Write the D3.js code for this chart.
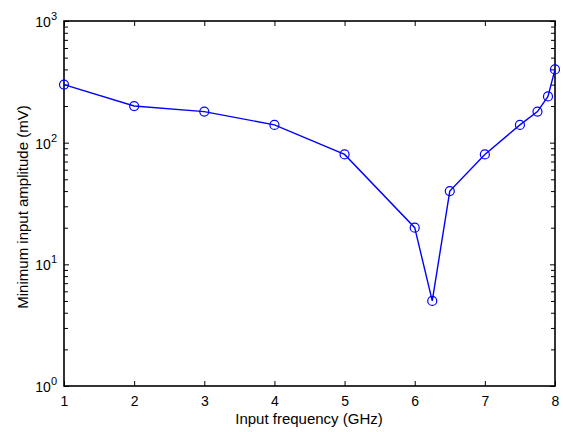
<!DOCTYPE html>
<html><head><meta charset="utf-8">
<script src="https://cdn.jsdelivr.net/npm/d3@7"></script>
<style>body{margin:0;background:#fff}svg{display:block}text{font-family:"Liberation Sans",Arial,sans-serif;fill:#000}</style>
</head><body>
<script>
const freqGHz = [1, 2, 3, 4, 5, 6, 6.25, 6.5, 7, 7.5, 7.75, 7.9, 8];
const minAmplitudeMV = [300, 200, 180, 140, 80, 20, 5, 40, 80, 140, 180, 240, 400];
const xTicks = [1, 2, 3, 4, 5, 6, 7, 8];
const yDecades = [0, 1, 2, 3];
const xTitle = "Input frequency (GHz)";
const yTitle = "Minimum input amplitude (mV)";

const W = 563, H = 432;
const m = {l: 64, r: 8, t: 21, b: 46};
const svg = d3.select("body").append("svg").attr("width", W).attr("height", H);
const x = d3.scaleLinear().domain([1, 8]).range([m.l, W - m.r]);
const y = d3.scaleLog().domain([1, 1000]).range([H - m.b, m.t]);

// minor y ticks
const minor = [];
for (let d = 0; d < 3; d++) for (let k = 2; k <= 9; k++) minor.push(k * Math.pow(10, d));

const g = svg.append("g");
// bottom axis
const xAxisB = d3.axisBottom(x).tickValues(xTicks).tickFormat(d3.format("d")).tickSizeInner(-5).tickSizeOuter(0).tickPadding(10);
g.append("g").attr("transform", `translate(0,${H - m.b})`).call(xAxisB)
  .call(s => { s.select(".domain").remove(); s.selectAll("text").style("font-size", "14px").style("font-family", '"Liberation Sans",Arial,sans-serif'); });
// top ticks
g.append("g").attr("transform", `translate(0,${m.t})`).call(d3.axisTop(x).tickValues(xTicks).tickSizeInner(-5).tickSizeOuter(0).tickFormat(""))
  .call(s => s.select(".domain").remove());
// left/right ticks
const yMaj = yDecades.map(d => Math.pow(10, d));
g.append("g").attr("transform", `translate(${m.l},0)`).call(d3.axisLeft(y).tickValues(yMaj).tickSizeInner(-5).tickSizeOuter(0).tickFormat(""))
  .call(s => s.select(".domain").remove());
g.append("g").attr("transform", `translate(${m.l},0)`).call(d3.axisLeft(y).tickValues(minor).tickSizeInner(-4).tickSizeOuter(0).tickFormat(""))
  .call(s => s.select(".domain").remove());
g.append("g").attr("transform", `translate(${W - m.r},0)`).call(d3.axisRight(y).tickValues(yMaj).tickSizeInner(-5).tickSizeOuter(0).tickFormat(""))
  .call(s => s.select(".domain").remove());
g.append("g").attr("transform", `translate(${W - m.r},0)`).call(d3.axisRight(y).tickValues(minor).tickSizeInner(-4).tickSizeOuter(0).tickFormat(""))
  .call(s => s.select(".domain").remove());
g.selectAll(".tick line").attr("stroke", "#000").attr("stroke-width", 1);

// y labels 10^n
const yl = svg.append("g");
yDecades.forEach(d => {
  const t = yl.append("text").attr("x", m.l - 7).attr("y", y(Math.pow(10, d)) + 6).attr("text-anchor", "end").style("font-size", "14px");
  t.append("tspan").text("10");
  t.append("tspan").attr("dy", -7).style("font-size", "11px").text(d);
});

// frame
svg.append("rect").attr("x", m.l).attr("y", m.t).attr("width", W - m.r - m.l).attr("height", H - m.b - m.t)
  .attr("fill", "none").attr("stroke", "#000").attr("stroke-width", 1.6);

// data line
const pts = freqGHz.map((f, i) => [f, minAmplitudeMV[i]]);
svg.append("path").datum(pts).attr("fill", "none").attr("stroke", "#0000ff").attr("stroke-width", 1.4)
  .attr("d", d3.line().x(d => x(d[0])).y(d => y(d[1])));
svg.selectAll("circle.pt").data(pts).enter().append("circle").attr("class", "pt")
  .attr("cx", d => x(d[0])).attr("cy", d => y(d[1])).attr("r", 4.5)
  .attr("fill", "none").attr("stroke", "#0000ff").attr("stroke-width", 1.2);

// titles
svg.append("text").attr("x", 309).attr("y", 424).attr("text-anchor", "middle").style("font-size", "15px").text(xTitle);
svg.append("text").attr("transform", `translate(28,207) rotate(-90)`).attr("text-anchor", "middle").style("font-size", "15px").text(yTitle);
</script>
</body></html>
